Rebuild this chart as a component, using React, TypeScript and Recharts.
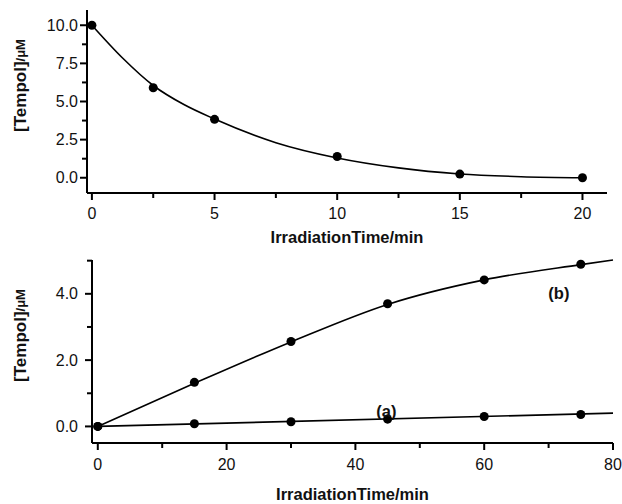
import { ComposedChart, Line, Scatter, XAxis, YAxis, ReferenceDot } from 'recharts';

// top panel: Tempol decay
const decayTime = [0, 2.5, 5, 10, 15, 20];
const decayConc = [10, 5.9, 3.83, 1.39, 0.24, 0];
const decayFitTime = [0, 1.25, 2.5, 3.75, 5, 7.5, 10, 12.5, 15, 17.5, 20];
const decayFitConc = [10, 7.85, 6.05, 4.8, 3.85, 2.3, 1.3, 0.65, 0.25, 0.07, 0.0];
const decayXTicks = [0, 2.5, 5, 7.5, 10, 12.5, 15, 17.5, 20];
const decayXLabeled = [0, 5, 10, 15, 20];
const decayYTicks = [0, 1.25, 2.5, 3.75, 5, 6.25, 7.5, 8.75, 10];
const decayYLabeled = [0, 2.5, 5, 7.5, 10];

// bottom panel: Tempol formation, curves (a) and (b)
const growthTime = [0, 15, 30, 45, 60, 75];
const growthA = [0, 0.08, 0.14, 0.22, 0.3, 0.36];
const growthB = [0, 1.33, 2.56, 3.7, 4.42, 4.89];
const fitATime = [0, 80];
const fitA = [0, 0.4];
const fitBTime = [0, 15, 30, 45, 60, 75, 80];
const fitB = [0, 1.3, 2.55, 3.68, 4.42, 4.88, 5.02];
const growthXTicks = [0, 10, 20, 30, 40, 50, 60, 70, 80];
const growthXLabeled = [0, 20, 40, 60, 80];
const growthYTicks = [0, 1, 2, 3, 4, 5];
const growthYLabeled = [0, 2, 4];

const FONT = '"Liberation Sans", Arial, sans-serif';

const toPoints = (xs: number[], ys: number[]) => xs.map((t, i) => ({ t, c: ys[i] }));

function makeXTick(labeled: number[], labelDy: number) {
  return (props: any) => {
    const { x, y, payload } = props;
    const major = labeled.includes(payload.value);
    return (
      <g>
        <line x1={x} x2={x} y1={y} y2={y + (major ? 7 : 5)} stroke="#000" strokeWidth={2} />
        {major && (
          <text x={x} y={y + labelDy} textAnchor="middle" fontSize={16} fontFamily={FONT} fill="#111">
            {payload.value}
          </text>
        )}
      </g>
    );
  };
}

function makeYTick(labeled: number[], gap: number) {
  return (props: any) => {
    const { x, y, payload } = props;
    const major = labeled.includes(payload.value);
    return (
      <g>
        <line x1={x - (major ? 7 : 5)} x2={x} y1={y} y2={y} stroke="#000" strokeWidth={2} />
        {major && (
          <text x={x - gap} y={y + 5.5} textAnchor="end" fontSize={16} fontFamily={FONT} fill="#111">
            {payload.value.toFixed(1)}
          </text>
        )}
      </g>
    );
  };
}

const yTitle = (props: any) => {
  const vb = props.viewBox;
  const cx = 20;
  const cy = vb.y + vb.height / 2 - 16;
  return (
    <text
      x={cx}
      y={cy}
      transform={`rotate(-90 ${cx} ${cy})`}
      textAnchor="middle"
      dominantBaseline="central"
      fontFamily={FONT}
      fontWeight="bold"
      fill="#111"
    >
      <tspan fontSize={17}>[Tempol]</tspan>
      <tspan fontSize={13}>/μM</tspan>
    </text>
  );
};

function makeXTitle(baseline: number) {
  return (props: any) => {
    const vb = props.viewBox;
    return (
      <text
        x={vb.x + vb.width / 2}
        y={vb.y + baseline}
        textAnchor="middle"
        fontSize={16.5}
        fontWeight="bold"
        fontFamily={FONT}
        fill="#111"
      >
        IrradiationTime/min
      </text>
    );
  };
}

const axisLine = { stroke: '#000', strokeWidth: 2 };
const curveLabel = { position: 'center' as const, fontSize: 16.5, fontWeight: 'bold', fontFamily: FONT, fill: '#111' };

export default function App() {
  return (
    <div style={{ position: 'absolute', left: 0, top: 0, width: 622, height: 504, background: '#fff' }}>
      <ComposedChart width={622} height={252} margin={{ top: 10, right: 15, left: 0, bottom: 0 }}>
        <XAxis
          type="number"
          dataKey="t"
          domain={[-0.2, 21.0]}
          ticks={decayXTicks}
          interval={0}
          height={59}
          axisLine={axisLine}
          tickLine={false}
          tickSize={0}
          tickMargin={0}
          tick={makeXTick(decayXLabeled, 26)}
          label={{ content: makeXTitle(50) }}
        />
        <YAxis
          type="number"
          domain={[-1, 11]}
          ticks={decayYTicks}
          interval={0}
          width={87}
          axisLine={axisLine}
          tickLine={false}
          tickSize={0}
          tickMargin={0}
          tick={makeYTick(decayYLabeled, 9)}
          label={{ content: yTitle }}
        />
        <Line
          data={toPoints(decayFitTime, decayFitConc)}
          dataKey="c"
          type="monotone"
          stroke="#000"
          strokeWidth={1.6}
          dot={false}
          isAnimationActive={false}
        />
        <Scatter data={toPoints(decayTime, decayConc)} dataKey="c" fill="#000" isAnimationActive={false} />
      </ComposedChart>
      <ComposedChart width={622} height={252} margin={{ top: 8, right: 9, left: 0, bottom: 0 }}>
        <XAxis
          type="number"
          dataKey="t"
          domain={[-0.9, 80]}
          ticks={growthXTicks}
          interval={0}
          height={61}
          axisLine={axisLine}
          tickLine={false}
          tickSize={0}
          tickMargin={0}
          tick={makeXTick(growthXLabeled, 27)}
          label={{ content: makeXTitle(57) }}
        />
        <YAxis
          type="number"
          domain={[-0.5, 5]}
          ticks={growthYTicks}
          interval={0}
          width={92}
          axisLine={axisLine}
          tickLine={false}
          tickSize={0}
          tickMargin={0}
          tick={makeYTick(growthYLabeled, 14)}
          label={{ content: yTitle }}
        />
        <Line
          data={toPoints(fitBTime, fitB)}
          dataKey="c"
          type="monotone"
          stroke="#000"
          strokeWidth={1.6}
          dot={false}
          isAnimationActive={false}
        />
        <Line
          data={toPoints(fitATime, fitA)}
          dataKey="c"
          type="linear"
          stroke="#000"
          strokeWidth={1.6}
          dot={false}
          isAnimationActive={false}
        />
        <Scatter data={toPoints(growthTime, growthB)} dataKey="c" fill="#000" isAnimationActive={false} />
        <Scatter data={toPoints(growthTime, growthA)} dataKey="c" fill="#000" isAnimationActive={false} />
        <ReferenceDot x={71.6} y={4.03} r={0} fill="none" stroke="none" label={{ value: '(b)', ...curveLabel }} />
        <ReferenceDot x={44.8} y={0.47} r={0} fill="none" stroke="none" label={{ value: '(a)', ...curveLabel }} />
      </ComposedChart>
    </div>
  );
}
